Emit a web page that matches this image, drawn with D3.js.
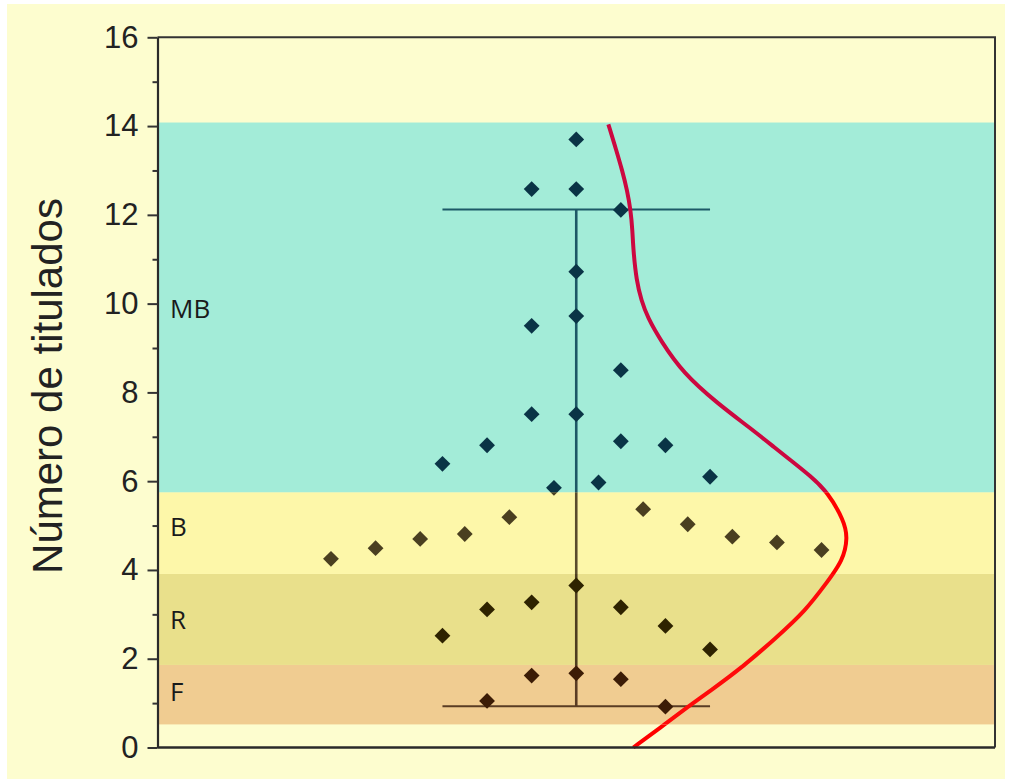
<!DOCTYPE html>
<html><head><meta charset="utf-8">
<script src="https://cdn.jsdelivr.net/npm/d3@7"></script>
<style>html,body{margin:0;padding:0;background:#fff;}svg{display:block;}</style>
</head><body>
<svg id="c" width="1013" height="781"></svg>
<script>
// ---- data ----
const yTicks = [0, 2, 4, 6, 8, 10, 12, 14, 16];
const yMinorTicks = [1, 3, 5, 7, 9, 11, 13, 15];
const axisTitle = "Número de titulados";

const bandNames = ["F", "R", "B", "MB"];
const bandLow  = [0.52, 1.86, 3.91, 5.75];
const bandHigh = [1.86, 3.91, 5.75, 14.08];
const bandLabelAt = [1.28, 2.89, 5.0, 9.9];

// dot positions (column offset) and values
const dotCol = [0, -1, 0, 1, 0, 0, -1, 1, -1, 0, -2, 1, 2, -3, 3, -0.5, 0.5,
                -5.5, -4.5, -3.5, -2.5, -1.5, 1.5, 2.5, 3.5, 4.5, 5.5,
                0, -1, -2, -3, 1, 2, 3,
                -1, 0, 1, -2, 2];
const dotVal = [13.70, 12.58, 12.58, 12.11, 10.72, 9.72, 9.50, 8.50, 7.51, 7.51, 6.81, 6.90, 6.81, 6.39, 6.10, 5.85, 5.97,
                4.25, 4.49, 4.70, 4.81, 5.19, 5.37, 5.03, 4.75, 4.62, 4.45,
                3.65, 3.27, 3.11, 2.52, 3.16, 2.74, 2.21,
                1.62, 1.67, 1.54, 1.05, 0.92];

// error bar
const errCol = 0, errLow = 0.93, errHigh = 12.12, errCapHalf = 3;

// distribution curve (column offset, value)
const curveCol = [0.72, 0.90, 1.03, 1.14, 1.22, 1.26, 1.28, 1.35, 1.46, 1.60, 1.89, 2.40, 3.17, 3.91, 4.47, 4.81, 5.26, 5.64, 6.00, 6.09, 5.98, 5.62, 5.15, 4.47, 3.69, 3.01, 2.52, 1.89, 1.28];
const curveVal = [14.04, 13.45, 13.00, 12.56, 12.10, 11.65, 11.20, 10.52, 10.07, 9.69, 9.17, 8.43, 7.75, 7.19, 6.74, 6.47, 6.11, 5.75, 5.12, 4.73, 4.21, 3.72, 3.09, 2.46, 1.78, 1.28, 0.93, 0.45, 0.00];

// ---- styles ----
const pageBg = "#fdfdcf";
const bandFill = {F: "#f0cc91", R: "#e9e08b", B: "#fdf7a9", MB: "#a3ecd8"};
const dotColor = {F: "#3c1c06", R: "#2e2300", B: "#4a3f20", MB: "#0a3446", none: "#222"};
const barColor = {F: "#5a3c24", R: "#4e3e20", B: "#5a4c2c", MB: "#1d5866", none: "#333"};
const curveColor = {F: "#ff0a0a", R: "#ff0a0a", B: "#ff0000", MB: "#cc0840", none: "#ff0000"};

const W = 1013, H = 781;
const pLeft = 157.5, pRight = 995, pTop = 37.3, pBottom = 747.5;

const svg = d3.select("#c");
svg.append("rect").attr("x", 7).attr("y", 4).attr("width", 998).attr("height", 775).attr("fill", pageBg);

const x = d3.scaleLinear().domain([-9.39, 9.39]).range([pLeft, pRight]);
const y = d3.scaleLinear().domain([0, 16]).range([pBottom, pTop]);

// bands
const bands = bandNames.map((n, i) => ({name: n, lo: bandLow[i], hi: bandHigh[i], lab: bandLabelAt[i]}));
svg.append("g").selectAll("rect").data(bands).join("rect")
  .attr("x", pLeft).attr("width", pRight - pLeft)
  .attr("y", d => y(d.hi)).attr("height", d => y(d.lo) - y(d.hi))
  .attr("fill", d => bandFill[d.name]);

// regions for colouring marks
const regions = [{name: "none", lo: -2, hi: bandLow[0]}]
  .concat(bands)
  .concat([{name: "none", lo: bandHigh[3], hi: 18}]);

const defs = svg.append("defs");
regions.forEach((r, i) => {
  defs.append("clipPath").attr("id", "clip" + i).append("rect")
    .attr("x", 0).attr("width", W)
    .attr("y", y(r.hi)).attr("height", y(r.lo) - y(r.hi));
});

const dots = dotVal.map((v, i) => ({c: dotCol[i], v}));
const curvePts = curveVal.map((v, i) => ({c: curveCol[i], v}));
const line = d3.line().x(d => x(d.c)).y(d => y(d.v)).curve(d3.curveBasis);
const diamond = d3.symbol().type(d3.symbolSquare).size(125);

regions.forEach((r, i) => {
  const g = svg.append("g").attr("clip-path", `url(#clip${i})`);
  g.append("line").attr("x1", x(errCol)).attr("x2", x(errCol))
    .attr("y1", y(errHigh)).attr("y2", y(errLow))
    .attr("stroke", barColor[r.name]).attr("stroke-width", 2.6);
  [errHigh, errLow].forEach(v => {
    g.append("line").attr("x1", x(errCol - errCapHalf)).attr("x2", x(errCol + errCapHalf))
      .attr("y1", y(v)).attr("y2", y(v))
      .attr("stroke", barColor[r.name]).attr("stroke-width", 2);
  });
  g.selectAll("path.dot").data(dots).join("path").attr("class", "dot")
    .attr("d", diamond)
    .attr("transform", d => `translate(${x(d.c)},${y(d.v)}) rotate(45)`)
    .attr("fill", dotColor[r.name]);
  g.append("path").datum(curvePts).attr("d", line)
    .attr("fill", "none").attr("stroke", curveColor[r.name]).attr("stroke-width", 4);
});

// band labels
svg.append("g").selectAll("text").data(bands).join("text")
  .attr("x", 170).attr("y", d => y(d.lab))
  .attr("dominant-baseline", "central")
  .attr("font-family", "'Open Sans', sans-serif").attr("font-size", 26)
  .attr("fill", "#1a1a1a")
  .text(d => d.name);

// frame (top/right)
svg.append("path")
  .attr("d", `M${pLeft},${pTop}H${pRight}V${pBottom}`)
  .attr("fill", "none").attr("stroke", "#333").attr("stroke-width", 2);
svg.append("line").attr("x1", pLeft).attr("x2", pRight).attr("y1", pBottom).attr("y2", pBottom)
  .attr("stroke", "#2a2a2a").attr("stroke-width", 2.4);

// y axis
const yAxis = d3.axisLeft(y).tickValues(yTicks).tickSize(10).tickPadding(9).tickSizeOuter(0).tickFormat(d3.format("d"));
const ga = svg.append("g").attr("transform", `translate(${pLeft},0)`).call(yAxis);
ga.select(".domain").attr("stroke", "#2a2a2a").attr("stroke-width", 2.2);
ga.selectAll(".tick line").attr("stroke", "#333").attr("stroke-width", 2);
ga.selectAll(".tick text").attr("font-family", "'Liberation Sans', Arial, sans-serif")
  .attr("font-size", 31).attr("fill", "#222");
const gm = svg.append("g").attr("transform", `translate(${pLeft},0)`)
  .call(d3.axisLeft(y).tickValues(yMinorTicks).tickSize(5).tickFormat(""));
gm.select(".domain").remove();
gm.selectAll(".tick line").attr("stroke", "#333").attr("stroke-width", 2);

// axis title
svg.append("text")
  .attr("transform", `translate(${47},${386}) rotate(-90)`)
  .attr("text-anchor", "middle").attr("dominant-baseline", "central")
  .attr("font-family", "'Liberation Sans', Arial, sans-serif").attr("font-size", 42)
  .attr("fill", "#222")
  .text(axisTitle);
</script>
</body></html>
